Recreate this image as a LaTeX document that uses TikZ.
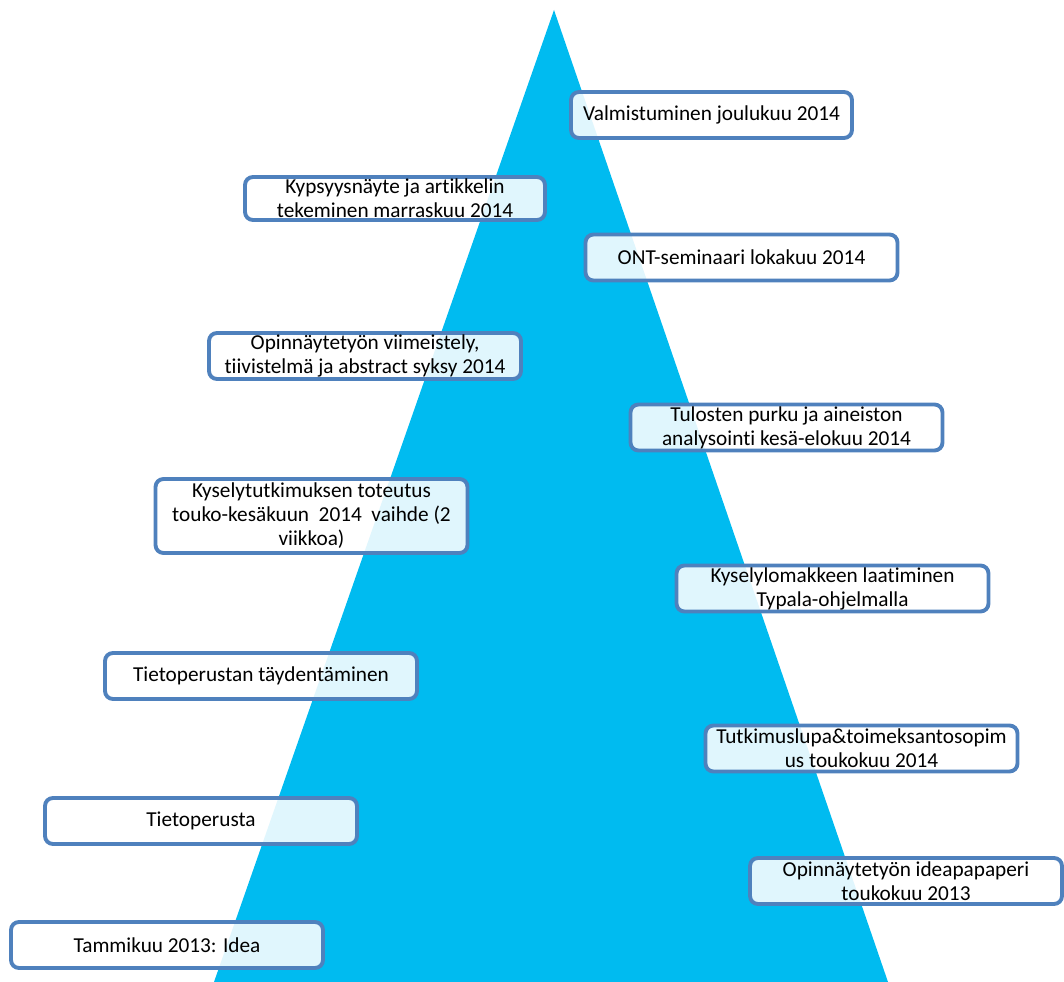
\documentclass[tikz,border=0pt]{standalone}
\usepackage{fontspec}
\setmainfont{Carlito}[Ligatures={NoCommon}, RawFeature={-liga}]
\usepackage{tikz}
\definecolor{syaani}{RGB}{0,187,240}
\definecolor{reunasini}{RGB}{79,129,189}

\begin{document}
\begin{tikzpicture}[x=0.02cm, y=-0.02cm,
      vaihe/.style={draw=reunasini, line width=2.2pt, rounded corners=4.5pt,
                    minimum width=6.24cm, minimum height=0.92cm,
                    fill=white, fill opacity=0.88, text opacity=1,
                    font=\fontsize{12.1}{13.7}\selectfont, align=center, inner sep=0pt}]
    \useasboundingbox (0,0) rectangle (1064,982);

    % kolmio
    \fill[syaani] (554,10) -- (888,982) -- (214,982) -- cycle;

    % oikea puoli
    \node[vaihe, minimum width=5.62cm] (valmistuminen) at (711.5,115) {Valmistuminen joulukuu 2014};
    \node[vaihe] (seminaari) at (741.5,257.5) {ONT-seminaari lokakuu 2014};
    \node[vaihe] (tulokset) at (786.5,427.5) {Tulosten purku ja aineiston\\analysointi kesä-elokuu 2014};
    \node[vaihe] (lomake) at (832.5,588.5) {Kyselylomakkeen laatiminen\\Typala-ohjelmalla};
    \node[vaihe] (lupa) at (861.5,748.5) {Tutkimuslupa\&toimeksantosopim\\us toukokuu 2014};
    \node[vaihe] (ideapaperi) at (906,881) {Opinnäytetyön ideapapaperi\\toukokuu 2013};

    % vasen puoli
    \node[vaihe, minimum width=6.0cm, minimum height=0.86cm] (kypsyys) at (395,198.5) {Kypsyysnäyte ja artikkelin\\tekeminen marraskuu 2014};
    \node[vaihe] (viimeistely) at (365,356) {Opinnäytetyön viimeistely,\\tiivistelmä ja abstract syksy 2014};
    \node[vaihe, minimum height=1.48cm] (toteutus) at (311.5,516) {Kyselytutkimuksen toteutus\\touko-kesäkuun\ \ 2014\ \ vaihde (2\\viikkoa)};
    \node[vaihe] (taydennys) at (261,676) {Tietoperustan täydentäminen};
    \node[vaihe] (tietoperusta) at (201,821) {Tietoperusta};
    \node[vaihe] (idea) at (167,945) {Tammikuu 2013: Idea};
\end{tikzpicture}
\end{document}
